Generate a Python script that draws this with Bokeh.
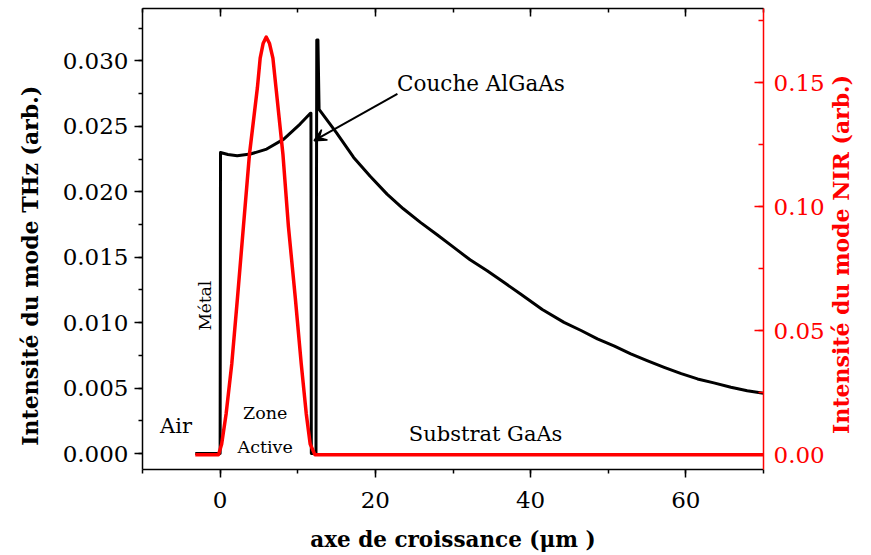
import math
from bokeh.plotting import figure
from bokeh.models import (LinearAxis, Range1d, SingleIntervalTicker, NumeralTickFormatter, FixedTicker,
                          Label, Arrow, VeeHead, CustomLabelingPolicy)
from bokeh.embed import file_html
from bokeh.resources import INLINE

# ---- data ----
thz_x = [-3.2, 0.0, 0.05, 1.0, 2.2, 3.9, 6.0, 8.2, 10.3, 11.6, 11.7, 11.75, 12.35, 12.45,
         12.6, 12.75, 15.0, 17.2, 19.3, 21.5, 23.6, 25.8, 28.0, 30.1, 32.2, 34.4, 36.5, 38.7,
         41.5, 44.3, 46.5, 48.6, 50.8, 52.9, 55.0, 57.2, 59.4, 61.5, 63.6, 65.8, 67.9, 70.0]
thz_y = [0.0, 0.0, 0.0230, 0.02285, 0.02275, 0.02288, 0.02326, 0.02402, 0.02517, 0.02598,
         0.0260, 0.0, 0.0, 0.0316, 0.0316, 0.0263, 0.0245, 0.02262, 0.0212, 0.01982, 0.0187,
         0.01766, 0.0167, 0.01575, 0.0148, 0.01397, 0.0131, 0.01219, 0.0110, 0.01002, 0.0094,
         0.00876, 0.0082, 0.00761, 0.0071, 0.00659, 0.0061, 0.00570, 0.0054, 0.00506, 0.0048,
         0.00460]

nir_x = [-3.2, -0.2, 0.2, 0.77, 1.5, 2.24, 3.0, 3.78, 4.8, 5.16, 5.55, 5.94, 6.35, 6.8, 7.2,
         8.09, 8.8, 9.68, 10.45, 11.1, 11.6, 12.2, 70.0]
nir_y = [0.0, 0.0, 0.0043, 0.0164, 0.0366, 0.0634, 0.0920, 0.1212, 0.148, 0.160, 0.1660,
         0.1685, 0.1660, 0.160, 0.148, 0.1212, 0.0920, 0.0634, 0.0366, 0.0164, 0.0043, 0.0, 0.0]

x_tick_step = 20
thz_tick_step = 0.005
nir_tick_step = 0.05

left_title = "Intensité du mode THz (arb.)"
right_title = "Intensité du mode NIR (arb.)"
bottom_title = "axe de croissance (μm )"
left_title_anchor = 0.0281    # THz-scale anchor of the left title
right_title_anchor = 0.0015   # THz-scale start of the right title

FONT = "DejaVu Serif"

p = figure(width=871, height=555, output_backend="svg", toolbar_location=None,
           x_range=Range1d(-10, 70), y_range=Range1d(-0.00122, 0.034),
           min_border_left=142, min_border_right=108, min_border_top=8, min_border_bottom=86)
p.extra_y_ranges = {"nir": Range1d(-0.006, 0.18)}
p.xgrid.visible = False
p.ygrid.visible = False
p.outline_line_color = None
p.background_fill_color = "white"
p.border_fill_color = "white"

def style_axis(ax, color="black"):
    ax.axis_line_color = color
    ax.axis_line_width = 1.5
    ax.major_tick_line_color = color
    ax.minor_tick_line_color = color
    ax.major_tick_line_width = 1.5
    ax.minor_tick_line_width = 1.5
    ax.major_label_text_font = FONT
    ax.major_label_text_font_size = "23px"
    ax.major_label_text_color = color
    ax.axis_label_text_font = FONT
    ax.axis_label_text_font_style = "bold"
    ax.axis_label_text_font_size = "21.5px"
    ax.axis_label_text_color = color

def title_axis(value, text, color, standoff):
    t = LinearAxis(ticker=FixedTicker(ticks=[value], minor_ticks=[]),
                   major_label_overrides={value: text})
    t.axis_line_color = None
    t.major_tick_line_color = None
    t.minor_tick_line_color = None
    t.major_tick_out = 0
    t.major_tick_in = 0
    t.major_label_standoff = standoff
    t.major_label_orientation = math.pi / 2
    t.major_label_text_font = FONT
    t.major_label_text_font_style = "bold"
    t.major_label_text_font_size = "22px"
    t.major_label_text_line_height = 0.8
    t.major_label_text_color = color
    return t

# bottom axis
xa = p.xaxis[0]
xa.ticker = SingleIntervalTicker(interval=x_tick_step, num_minor_ticks=2)
style_axis(xa)
xa.major_tick_out = 8
xa.major_tick_in = 0
xa.minor_tick_out = 4
xa.minor_tick_in = 0
xa.major_label_standoff = 14
xa.axis_label = bottom_title
xa.axis_label_standoff = 16

# top axis (ticks only)
ta = LinearAxis(ticker=SingleIntervalTicker(interval=x_tick_step, num_minor_ticks=2))
style_axis(ta)
ta.major_tick_out = 0
ta.major_tick_in = 8
ta.minor_tick_out = 0
ta.minor_tick_in = 4
ta.major_label_text_font_size = "1px"
ta.major_label_standoff = 0
ta.major_label_policy = CustomLabelingPolicy(
    code="for (const i of indices) { indices.unset(i) }\nreturn indices")
p.add_layout(ta, "above")

# left axis
ya = p.yaxis[0]
ya.ticker = SingleIntervalTicker(interval=thz_tick_step, num_minor_ticks=2)
ya.formatter = NumeralTickFormatter(format="0.000")
style_axis(ya)
ya.major_tick_out = 8
ya.major_tick_in = 0
ya.minor_tick_out = 4
ya.minor_tick_in = 0
ya.major_label_standoff = 6
p.add_layout(title_axis(left_title_anchor, left_title, "black", 29), "left")

# right axis (red)
ra = LinearAxis(y_range_name="nir",
                ticker=SingleIntervalTicker(interval=nir_tick_step, num_minor_ticks=2),
                formatter=NumeralTickFormatter(format="0.00"))
style_axis(ra, "red")
ra.major_tick_out = 0
ra.major_tick_in = 9
ra.minor_tick_out = 0
ra.minor_tick_in = 5
ra.major_label_standoff = 10
p.add_layout(ra, "right")
p.add_layout(title_axis(right_title_anchor, right_title, "red", 14), "right")

# curves
p.line(thz_x, thz_y, line_color="black", line_width=3, line_join="round")
p.line(nir_x, nir_y, y_range_name="nir", line_color="red", line_width=3.5, line_join="round")

# annotations
p.add_layout(Arrow(end=VeeHead(size=12, fill_color="black", line_color="black", line_width=1.5),
                   x_start=22.84, y_start=0.02748, x_end=12.1, y_end=0.0239,
                   line_color="black", line_width=2))

def add_text(x, y, txt, size, angle=0.0):
    p.add_layout(Label(x=x, y=y, text=txt, text_font=FONT, text_font_size=size,
                       text_align="center", text_baseline="middle", text_color="black",
                       angle=angle))

add_text(33.6, 0.0283, "Couche AlGaAs", "21.5px")
add_text(-5.68, 0.00214, "Air", "21px")
add_text(5.8, 0.00313, "Zone", "17.5px")
add_text(5.8, 0.00053, "Active", "17.5px")
add_text(-1.94, 0.0113, "Métal", "17px", angle=math.pi / 2)
add_text(34.2, 0.00153, "Substrat GaAs", "21px")

open("out.html", "w").write(file_html(p, INLINE))
